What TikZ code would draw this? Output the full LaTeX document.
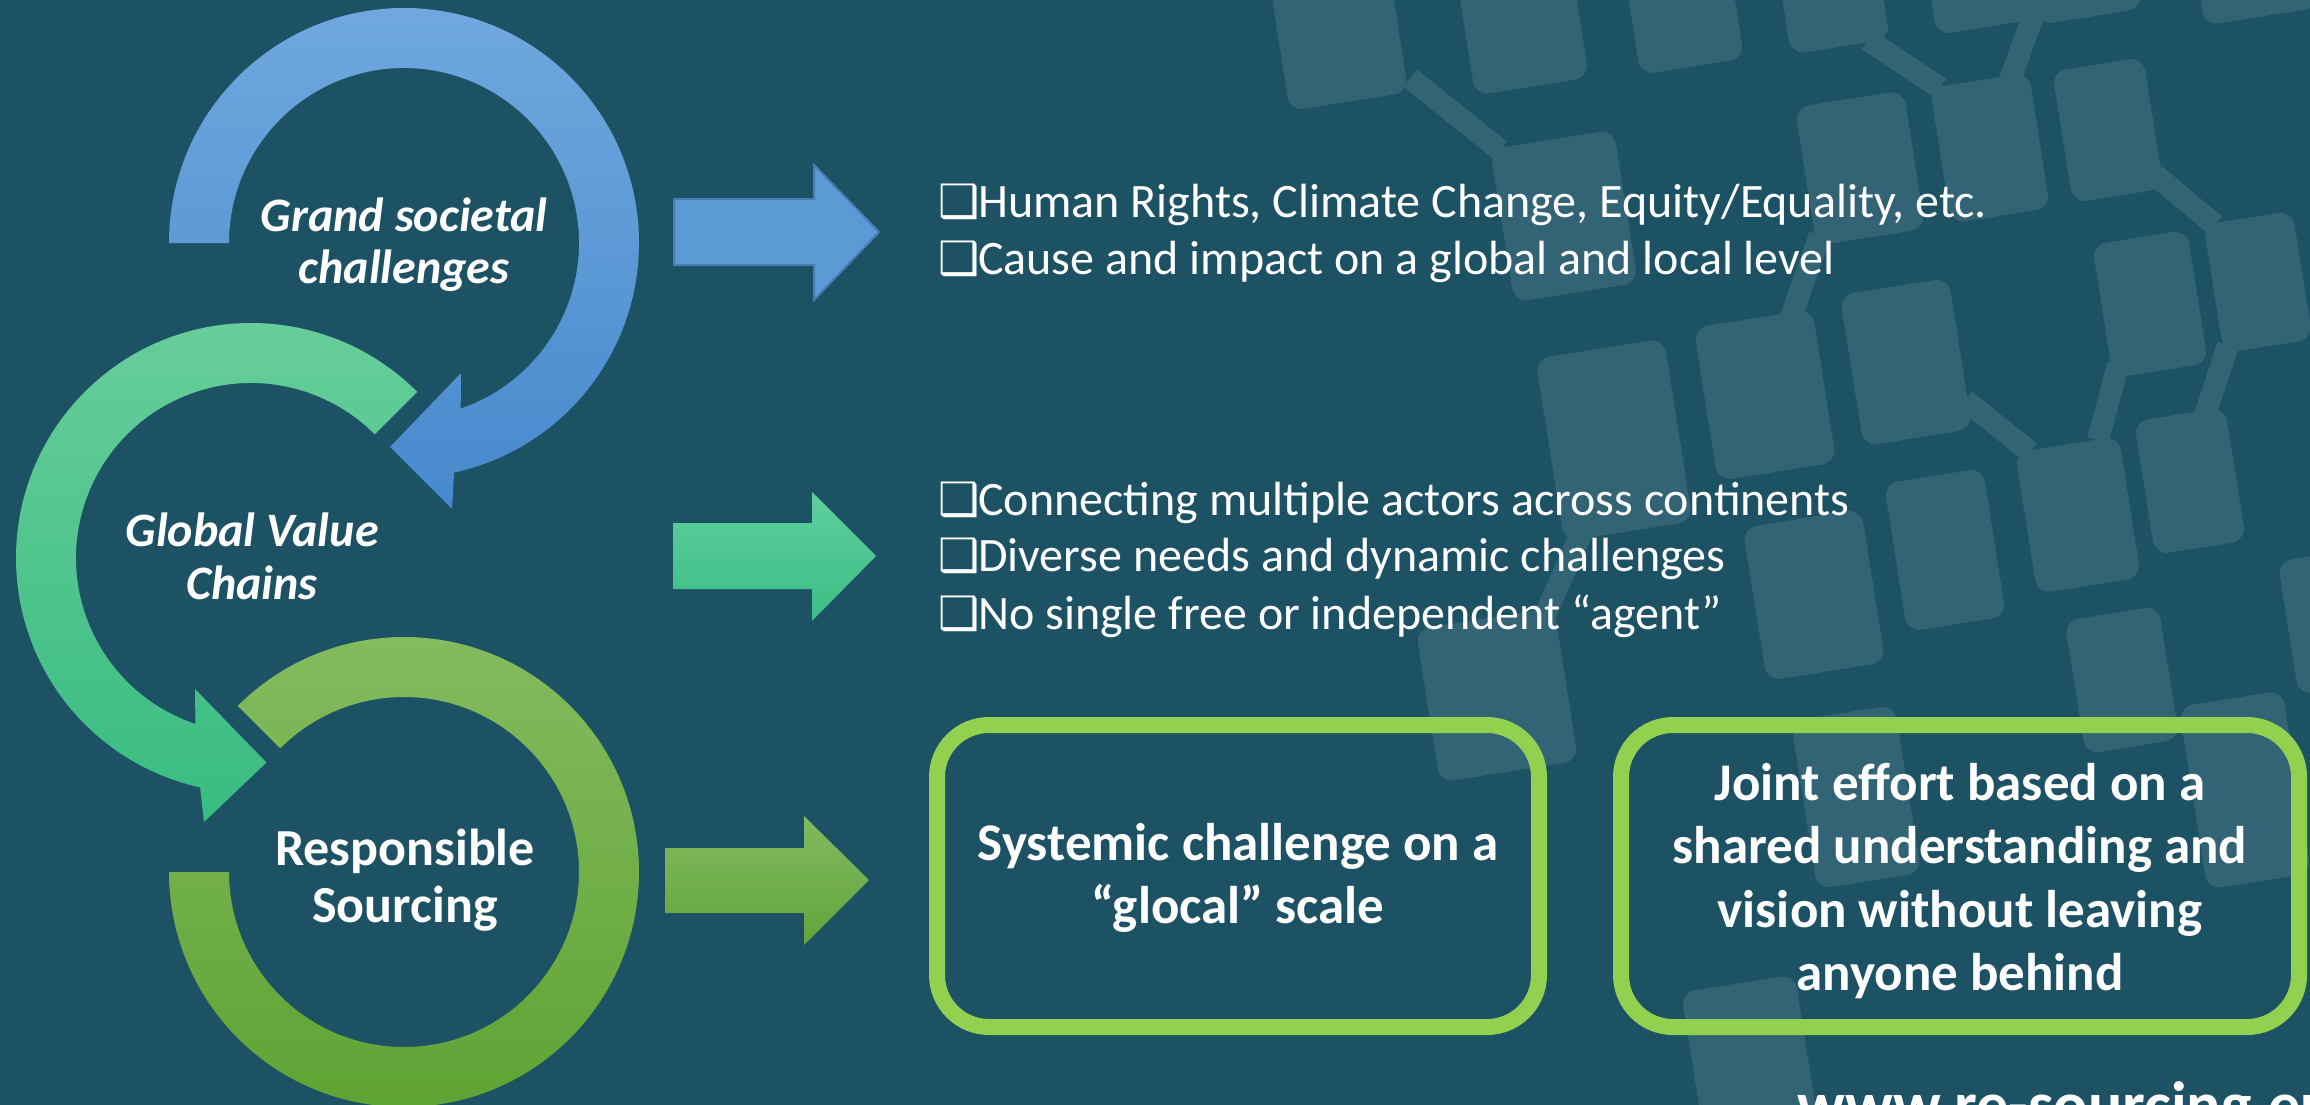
\documentclass[tikz,border=0pt]{standalone}
\usepackage{fontspec}
\setmainfont{Carlito}
\newfontfamily\symfont{DejaVu Sans}
\usetikzlibrary{calc}
\definecolor{bg}{HTML}{1D5265}
\definecolor{pat}{HTML}{326475}
\definecolor{blueTop}{HTML}{70A8DE}
\definecolor{blueBot}{HTML}{4689CD}
\definecolor{greenTop}{HTML}{69CE9B}
\definecolor{greenBot}{HTML}{38BC81}
\definecolor{oliveTop}{HTML}{86BC60}
\definecolor{oliveBot}{HTML}{5EA232}
\definecolor{arrBlue}{HTML}{5B9BD5}
\definecolor{arrBlueEdge}{HTML}{4A7DB5}
\definecolor{arrGreenTop}{HTML}{5ECF9E}
\definecolor{arrGreenBot}{HTML}{3CBE85}
\definecolor{arrOliveTop}{HTML}{82BA5F}
\definecolor{arrOliveBot}{HTML}{62A43A}
\definecolor{boxgreen}{HTML}{92D050}
\newcommand\prect[4]{%
  \fill[pat, rounded corners=14pt, rotate around={9:(#1,#2)}]
    ({#1-#3/2},{#2-#4/2}) rectangle ({#1+#3/2},{#2+#4/2});}
\newcommand\bx{\makebox[40pt][l]{\symfont\fontsize{46}{46}\selectfont ❑}}
\tikzset{
  lblI/.style={text=white, font=\fontsize{48}{52}\selectfont\bfseries\itshape, anchor=base, inner sep=0pt},
  lblB/.style={text=white, font=\fontsize{52}{57}\selectfont\bfseries, anchor=base, inner sep=0pt},
  bul/.style={text=white, font=\fontsize{48}{57}\selectfont, anchor=base west, inner sep=0pt},
  btx/.style={text=white, font=\fontsize{53}{64}\selectfont\bfseries, anchor=base, inner sep=0pt},
  gbox/.style={draw=boxgreen, line width=16pt, rounded corners=52pt, inner sep=0pt},
  patbar/.style={draw=pat, line width=22pt},
}
\begin{document}
\begin{tikzpicture}[x=1pt,y=-1pt]
\useasboundingbox (0,0) rectangle (2310,1105);
\fill[bg] (0,0) rectangle (2310,1105);
% background pattern
\begin{scope}
\clip (0,0) rectangle (2310,1105);
\draw[patbar] (1410,78) -- (1500,150);
\draw[patbar] (1868,40) -- (1940,88);
\draw[patbar] (2010,80) -- (2035,10);
\draw[patbar] (2155,175) -- (2215,225);
\draw[patbar] (1965,400) -- (2030,452);
\draw[patbar] (1790,320) -- (1820,235);
\draw[patbar] (2118,365) -- (2098,440);
\draw[patbar] (2205,415) -- (2228,345);
\draw[patbar] (1583,530) -- (1545,615);
\prect{1337}{25}{120}{155}
\prect{1520}{10}{115}{155}
\prect{1681}{-5}{105}{145}
\prect{1830}{-20}{100}{135}
\prect{1978}{-40}{105}{135}
\prect{2080}{-50}{105}{135}
\prect{2250}{-55}{115}{145}
\prect{1564}{216}{125}{155}
\prect{1860}{168}{110}{140}
\prect{1990}{148}{100}{137}
\prect{2108}{130}{92}{133}
\prect{2258}{282}{90}{130}
\prect{2150}{304}{96}{135}
\prect{1614}{440}{130}{185}
\prect{1765}{395}{120}{155}
\prect{1906}{362}{110}{153}
\prect{2078}{515}{105}{143}
\prect{2190}{481}{92}{135}
\prect{1945}{550}{100}{150}
\prect{1814}{595}{120}{155}
\prect{2340}{620}{105}{135}
\prect{1497}{695}{140}{155}
\prect{2122}{680}{95}{135}
\prect{2245}{790}{105}{185}
\prect{1856}{797}{105}{170}
\prect{1750}{1060}{115}{155}
\end{scope}
% circular arrows
\shade[top color=blueTop, bottom color=blueBot]
  ($(404,243)+(180:235)$) arc[start angle=180, end angle=437.7, radius=235]
  -- (452,509) -- (390,447) -- (461,373)
  -- ($(404,243)+(431.1:175)$) arc[start angle=431.1, end angle=180, radius=175] -- cycle;
\shade[top color=greenTop, bottom color=greenBot]
  ($(251,558)+(-45:235)$) arc[start angle=-45, end angle=-257.5, radius=235]
  -- (204,822) -- (266.5,762.5) -- (195,689)
  -- ($(251,558)+(-251.5:175)$) arc[start angle=-251.5, end angle=-45, radius=175] -- cycle;
\shade[top color=oliveTop, bottom color=oliveBot]
  ($(404,872)+(-135:235)$) arc[start angle=-135, end angle=180, radius=235]
  -- ($(404,872)+(180:175)$) arc[start angle=180, end angle=-135, radius=175] -- cycle;
% labels
\node[lblI] (g1) at (404,231) {Grand societal};
\node[lblI] (g2) at (404,283) {challenges};
\node[lblI] (v1) at (252,546) {Global Value};
\node[lblI] (v2) at (252,599) {Chains};
\node[lblB] (r1) at (405,865) {Responsible};
\node[lblB] (r2) at (405,922) {Sourcing};
% block arrows
\filldraw[fill=arrBlue, draw=arrBlueEdge, line width=2pt]
  (674,199) -- (814,199) -- (814,165) -- (879,232) -- (814,300) -- (814,265) -- (674,265) -- cycle;
\shade[top color=arrGreenTop, bottom color=arrGreenBot]
  (673,523) -- (812,523) -- (812,492) -- (876,556) -- (812,621) -- (812,589) -- (673,589) -- cycle;
\shade[top color=arrOliveTop, bottom color=arrOliveBot]
  (665,848) -- (804,848) -- (804,816) -- (869,880) -- (804,945) -- (804,913) -- (665,913) -- cycle;
% bullet texts
\node[bul] (a1) at (938,217) {\bx Human Rights, Climate Change, Equity/Equality, etc.};
\node[bul] (a2) at (938,274) {\bx Cause and impact on a global and local level};
\node[bul] (b1) at (938,515) {\bx Connecting multiple actors across continents};
\node[bul] (b2) at (938,571) {\bx Diverse needs and dynamic challenges};
\node[bul] (b3) at (938,629) {\bx No single free or independent “agent”};
% boxes
\node[gbox, minimum width=602pt, minimum height=302pt] (box1) at (1238,876) {};
\node[gbox, minimum width=678pt, minimum height=302pt] (box2) at (1960,876) {};
\node[btx] (s1) at (1238,860) {Systemic challenge on a};
\node[btx] (s2) at (1238,923) {“glocal” scale};
\node[btx] (j1) at (1960,800) {Joint effort based on a};
\node[btx] (j2) at (1960,863) {shared understanding and};
\node[btx] (j3) at (1960,927) {vision without leaving};
\node[btx] (j4) at (1960,990) {anyone behind};
% url
\node[text=white, font=\fontsize{64}{70}\selectfont\bfseries, anchor=base west, inner sep=0pt] (url) at (1797,1126) {www.re-sourcing.eu};
\end{tikzpicture}
\end{document}
